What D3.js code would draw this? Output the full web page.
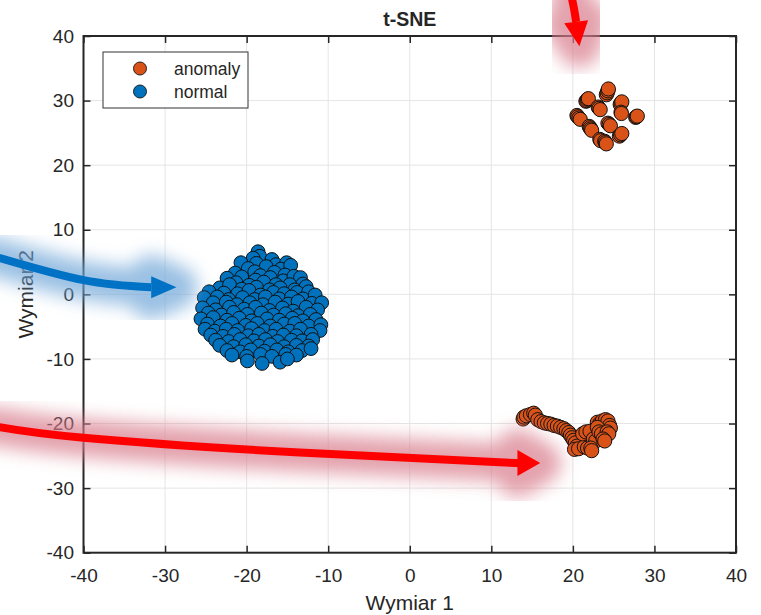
<!DOCTYPE html>
<html>
<head>
<meta charset="utf-8">
<script src="https://cdn.jsdelivr.net/npm/d3@7"></script>
<style>
  body { margin: 0; background: #fff; }
  text { font-family: "Liberation Sans", Arial, sans-serif; fill: #262626; }
</style>
</head>
<body>
<div id="scatter"></div>
<script>
// tick values and labels
let xTicks = [-40, -30, -20, -10, 0, 10, 20, 30, 40];
let yTicks = [-40, -30, -20, -10, 0, 10, 20, 30, 40];
let groupNames = ["anomaly", "normal"];
let groupColors = ["#D95319", "#0072BD"];

// t-SNE embedding (x = Wymiar 1, y = Wymiar 2)
let anomalyPoints = [
  // upper cluster
  [21.6, 29.9], [21.7, 30.0], [21.8, 30.2], [21.9, 30.3],
  [24.1, 30.9], [24.2, 31.2], [24.3, 31.5], [24.35, 31.8],
  [25.8, 29.4], [25.9, 29.6], [26.0, 29.8], [25.9, 28.2], [25.95, 28.0],
  [23.1, 29.0], [23.2, 28.8], [23.35, 28.6],
  [20.5, 27.7], [20.6, 27.5], [20.75, 27.3], [20.9, 27.1],
  [27.7, 27.4], [27.8, 27.5], [27.9, 27.6],
  [22.0, 26.0], [22.1, 25.8], [22.2, 25.6], [22.3, 25.4],
  [24.3, 26.5], [24.45, 26.3], [24.6, 26.1],
  [25.7, 24.5], [25.85, 24.7], [26.0, 24.9],
  [23.3, 24.0], [23.4, 23.8],
  [23.9, 23.7], [24.0, 23.5], [24.1, 23.3],
  // lower cluster
  [13.9, -19.3], [14.0, -19.0], [14.3, -18.8], [14.8, -18.6], [15.2, -18.4],
  [15.4, -18.7], [15.7, -19.4], [16.1, -19.7], [16.5, -19.9], [16.9, -20.0],
  [17.3, -20.1], [17.7, -20.3], [18.1, -20.4], [18.5, -20.6], [18.9, -20.8],
  [19.2, -21.1], [19.5, -21.4], [19.7, -21.8], [19.9, -22.2], [20.1, -22.6],
  [20.3, -23.0], [20.5, -23.5], [20.2, -24.0], [20.7, -23.9], [21.4, -23.6],
  [21.8, -23.8], [21.2, -21.6], [21.6, -21.3], [22.1, -21.2], [22.5, -22.4],
  [22.8, -22.7], [22.2, -23.8], [22.3, -24.2], [23.0, -19.8], [23.3, -20.0],
  [23.6, -19.6], [24.0, -19.4], [24.3, -19.6], [24.5, -20.3], [24.6, -20.7],
  [23.0, -20.6], [23.2, -21.3], [23.5, -21.6], [24.2, -21.3], [24.4, -21.6],
  [23.7, -22.4], [23.9, -22.7]
];

let normalPoints = [
  [-18.6, 6.6],
  [-18.4, 5.9], [-16.9, 5.4], [-19.2, 5.6],
  [-20.7, 4.9], [-18.8, 4.8], [-16.4, 4.6], [-15.1, 4.9],
  [-19.8, 4.0], [-17.6, 4.3], [-15.8, 3.9], [-14.6, 4.5],
  [-21.4, 3.3], [-19.0, 3.5], [-18.3, 2.9], [-16.6, 3.4], [-15.3, 3.0],
  [-22.4, 2.5], [-20.6, 2.7], [-18.9, 2.2], [-17.1, 2.6], [-15.5, 2.1], [-14.2, 2.8], [-13.4, 2.6],
  [-21.3, 1.8], [-19.7, 1.4], [-17.9, 1.9], [-16.4, 1.5], [-14.7, 1.5], [-13.1, 1.6],
  [-23.3, 1.0], [-22.1, 1.5], [-20.6, 0.8], [-18.8, 1.1], [-17.2, 0.7], [-15.9, 1.0], [-14.1, 0.7], [-12.7, 1.2],
  [-24.6, 0.4], [-22.8, 0.2], [-21.1, 0.1], [-19.7, 0.6], [-18.3, -0.1], [-16.7, 0.3], [-15.4, 0.1], [-13.8, 0.3], [-12.4, 0.4],
  [-25.2, -0.5], [-23.6, -0.4], [-22.2, -0.8], [-20.5, -0.5], [-19.0, -0.8], [-17.7, -0.4], [-16.0, -0.7], [-14.5, -0.4], [-13.1, -0.7], [-11.6, -0.1],
  [-24.1, -1.3], [-22.5, -1.2], [-21.2, -1.6], [-19.6, -1.3], [-18.0, -1.6], [-16.5, -1.2], [-14.9, -1.5], [-13.7, -1.1], [-12.0, -1.4], [-10.8, -1.3],
  [-25.4, -2.1], [-23.8, -2.4], [-22.1, -2.0], [-20.3, -2.3], [-18.9, -2.0], [-17.2, -2.5], [-15.6, -2.1], [-14.3, -2.6], [-12.7, -2.0], [-11.3, -2.4],
  [-24.7, -2.9], [-23.1, -3.2], [-21.6, -2.8], [-19.9, -3.1], [-18.2, -2.9], [-16.7, -3.2], [-15.2, -3.0], [-13.7, -3.3], [-12.2, -3.1],
  [-25.6, -3.8], [-24.1, -3.6], [-22.4, -4.0], [-20.9, -3.7], [-19.4, -4.1], [-17.5, -3.8], [-16.0, -4.0], [-14.4, -3.7], [-13.1, -4.1], [-11.5, -3.9],
  [-24.8, -4.6], [-23.2, -4.9], [-21.8, -4.5], [-20.1, -4.8], [-18.7, -4.5], [-17.1, -4.9], [-15.4, -4.6], [-14.1, -4.5], [-12.4, -4.9], [-10.9, -4.7],
  [-25.1, -5.4], [-23.9, -5.7], [-22.5, -5.4], [-21.1, -5.6], [-19.4, -5.3], [-17.8, -5.6], [-16.4, -5.4], [-14.7, -5.7], [-13.4, -5.4], [-11.0, -5.6],
  [-24.4, -6.3], [-22.9, -6.5], [-21.5, -6.2], [-19.8, -6.4], [-18.5, -6.2], [-16.8, -6.5], [-15.5, -6.3], [-13.9, -6.4], [-12.1, -6.2],
  [-23.8, -7.1], [-22.2, -7.3], [-20.8, -7.0], [-19.1, -7.2], [-17.7, -7.0], [-16.2, -7.3], [-14.5, -7.1], [-13.2, -7.2], [-11.9, -7.0],
  [-23.3, -7.9], [-21.6, -8.1], [-20.1, -7.8], [-18.5, -8.0], [-17.1, -7.8], [-15.4, -8.1], [-13.9, -7.9], [-12.4, -8.0],
  [-22.4, -8.7], [-20.8, -8.9], [-19.5, -8.6], [-17.8, -8.8], [-16.3, -8.6], [-14.9, -8.9], [-13.2, -8.7], [-12.1, -8.4],
  [-21.8, -9.4], [-20.0, -9.6], [-18.3, -9.3], [-16.9, -9.6], [-15.2, -9.3], [-13.9, -9.4],
  [-19.9, -10.3], [-18.1, -10.7], [-15.9, -10.5], [-15.0, -10.0]
];

// annotation arrows, in data units (shaft points and tip)
let arrows = [
  { shaft: [[-51, 5.9], [-40, 2.2], [-31.7, 1.1]], tip: [-28.6, 1.1], color: "#0072C6", halo: "#6fa6d8", half: 11 },
  { shaft: [[-51, -20.4], [-40, -22.2], [-13.5, -24.5], [11, -26.0], [13.2, -26.1]], tip: [16.0, -26.1], color: "#ff0000", halo: "#d87a8a", half: 13 },
  { shaft: [[19.7, 46.8], [20.1, 44.5], [20.4, 42.2]], tip: [20.8, 38.4], color: "#ff0000", halo: "#d87a8a", half: 12 }
];

let svgWidth = 761;
let svgHeight = 615;

let svg = d3.select("#scatter")
  .append("svg")
  .attr("width", svgWidth)
  .attr("height", svgHeight);

let x = d3.scaleLinear().domain([-40, 40]).range([83.5, 736]);
let y = d3.scaleLinear().domain([-40, 40]).range([552.7, 36]);

let defs = svg.append("defs");
defs.append("filter")
  .attr("id", "glow")
  .attr("x", "-50%").attr("y", "-50%")
  .attr("width", "200%").attr("height", "200%")
  .append("feGaussianBlur")
  .attr("stdDeviation", 9);

// grid
svg.append("g")
  .selectAll("line")
  .data(xTicks.slice(1, -1))
  .enter()
  .append("line")
    .attr("x1", d => x(d)).attr("x2", d => x(d))
    .attr("y1", y(-40)).attr("y2", y(40))
    .attr("stroke", "#e5e5e5");

svg.append("g")
  .selectAll("line")
  .data(yTicks.slice(1, -1))
  .enter()
  .append("line")
    .attr("y1", d => y(d)).attr("y2", d => y(d))
    .attr("x1", x(-40)).attr("x2", x(40))
    .attr("stroke", "#e5e5e5");

// axes, ticks pointing inside, plain hyphen for negatives
function styleAxis(g) {
  g.select(".domain").remove();
  g.selectAll(".tick line").attr("stroke", "#262626").attr("stroke-width", 1.5);
  g.selectAll(".tick text").attr("fill", "#262626").style("font-size", "19px")
    .style("font-family", "'Liberation Sans', Arial, sans-serif");
}
let plain = d => String(d);

svg.append("g")
  .attr("transform", `translate(0, ${y(-40)})`)
  .call(d3.axisBottom(x).tickValues(xTicks).tickFormat(plain).tickSizeInner(-7).tickSizeOuter(0).tickPadding(15.5))
  .call(styleAxis);

svg.append("g")
  .attr("transform", `translate(${x(-40)}, 0)`)
  .call(d3.axisLeft(y).tickValues(yTicks).tickFormat(plain).tickSizeInner(-7).tickSizeOuter(0).tickPadding(9.5))
  .call(styleAxis);

svg.append("g")
  .attr("transform", `translate(0, ${y(40)})`)
  .call(d3.axisTop(x).tickValues(xTicks).tickSizeInner(-7).tickSizeOuter(0).tickFormat(""))
  .call(styleAxis);

svg.append("g")
  .attr("transform", `translate(${x(40)}, 0)`)
  .call(d3.axisRight(y).tickValues(yTicks).tickSizeInner(-7).tickSizeOuter(0).tickFormat(""))
  .call(styleAxis);

svg.append("rect")
  .attr("x", x(-40)).attr("y", y(40))
  .attr("width", x(40) - x(-40)).attr("height", y(-40) - y(40))
  .attr("fill", "none")
  .attr("stroke", "#262626")
  .attr("stroke-width", 2);

// points
svg.append("g")
  .selectAll("circle")
  .data(normalPoints)
  .enter()
  .append("circle")
    .attr("cx", d => x(d[0]))
    .attr("cy", d => y(d[1]))
    .attr("r", 6.9)
    .attr("fill", groupColors[1])
    .attr("stroke", "#111")
    .attr("stroke-width", 1);

svg.append("g")
  .selectAll("circle")
  .data(anomalyPoints)
  .enter()
  .append("circle")
    .attr("cx", d => x(d[0]))
    .attr("cy", d => y(d[1]))
    .attr("r", 7.1)
    .attr("fill", groupColors[0])
    .attr("stroke", "#111")
    .attr("stroke-width", 1);

// title and axis labels
svg.append("text")
  .attr("x", x(0)).attr("y", 26)
  .attr("text-anchor", "middle")
  .style("font-size", "19.5px")
  .style("font-weight", "bold")
  .text("t-SNE");

svg.append("text")
  .attr("x", x(0)).attr("y", 610)
  .attr("text-anchor", "middle")
  .style("font-size", "21px")
  .text("Wymiar 1");

svg.append("text")
  .attr("transform", `translate(33, ${y(0)}) rotate(-90)`)
  .attr("text-anchor", "middle")
  .style("font-size", "21px")
  .text("Wymiar 2");

// legend
let legend = svg.append("g");
legend.append("rect")
  .attr("x", 103).attr("y", 52)
  .attr("width", 145).attr("height", 56)
  .attr("fill", "#fff")
  .attr("stroke", "#333")
  .attr("stroke-width", 1);

groupNames.forEach((name, i) => {
  legend.append("circle")
    .attr("cx", 140).attr("cy", 68.5 + i * 23)
    .attr("r", 6.5)
    .attr("fill", groupColors[i])
    .attr("stroke", "#111")
    .attr("stroke-width", 0.9);
  legend.append("text")
    .attr("x", 174).attr("y", 68.5 + i * 23)
    .attr("dy", "0.35em")
    .style("font-size", "17.5px")
    .text(name);
});

// arrows with a blurred halo
let line = d3.line().curve(d3.curveNatural);

arrows.forEach(a => {
  let pts = a.shaft.map(p => [x(p[0]), y(p[1])]);
  let base = pts[pts.length - 1];
  let tip = [x(a.tip[0]), y(a.tip[1])];
  let dx = tip[0] - base[0], dy = tip[1] - base[1];
  let len = Math.hypot(dx, dy);
  let nx = -dy / len * a.half, ny = dx / len * a.half;
  let head = `M${base[0] + nx},${base[1] + ny}L${tip[0]},${tip[1]}L${base[0] - nx},${base[1] - ny}Z`;

  let halo = svg.append("g")
    .attr("filter", "url(#glow)")
    .attr("opacity", 0.7);
  halo.append("path")
    .attr("d", line(pts.concat([tip])))
    .attr("fill", "none")
    .attr("stroke", a.halo)
    .attr("stroke-width", 38)
    .attr("stroke-linecap", "round");
  halo.append("path")
    .attr("d", head)
    .attr("fill", a.halo)
    .attr("stroke", a.halo)
    .attr("stroke-width", 42)
    .attr("stroke-linejoin", "round");

  svg.append("path")
    .attr("d", line(pts))
    .attr("fill", "none")
    .attr("stroke", a.color)
    .attr("stroke-width", 8);
  svg.append("path")
    .attr("d", head)
    .attr("fill", a.color);
});
</script>
</body>
</html>
